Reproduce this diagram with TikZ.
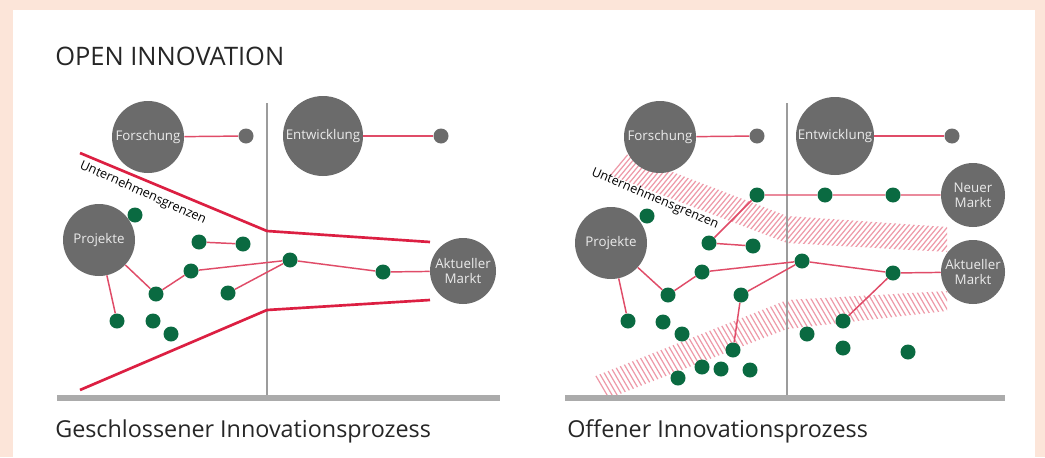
\documentclass[tikz,border=0pt]{standalone}
\usepackage{fontspec}
\setmainfont{Open Sans}
\definecolor{hintergrund}{HTML}{FCE5D9}
\definecolor{kreisgrau}{HTML}{6B6B6B}
\definecolor{punktgruen}{HTML}{0A6A41}
\definecolor{grenzrot}{HTML}{DC1F42}
\definecolor{linienrot}{HTML}{E04C68}
\definecolor{schraffrot}{HTML}{EE99A8}
\definecolor{achsgrau}{HTML}{9C9C9C}
\tikzset{
	kreis/.style={circle, fill=kreisgrau, inner sep=0pt, minimum size=#1, text=black!8, align=center, font=\fontsize{10}{11.5}\selectfont},
	knoten/.style={circle, fill=kreisgrau, inner sep=0pt, minimum size=11.25pt},
	punkt/.style={circle, fill=punktgruen, inner sep=0pt, minimum size=11.25pt},
	verbindung/.style={draw=linienrot, line width=1.1pt},
	grenze/.style={draw=grenzrot, line width=2pt},
	schraffur/.style={draw=schraffrot, line width=0.9pt},
	achse/.style={draw=achsgrau, line width=1.5pt},
	boden/.style={draw=achsgrau!85, line width=3.8pt},
	titel/.style={anchor=base west, inner sep=0pt, text=black!85, font=\fontsize{19.1}{21}\selectfont},
	unterschrift/.style={titel, font=\fontsize{17.5}{19}\selectfont},
	grenztext/.style={inner sep=0pt, text=black, font=\fontsize{9.5}{10}\selectfont},
}

\begin{document}
\begin{tikzpicture}[x=0.75pt, y=-0.75pt]
		%%%%% START %%%%%
		
		\fill[hintergrund] (0,0) rectangle (1045,457);
		\useasboundingbox (0,0) rectangle (1045,457);
		\fill[white] (13,10) rectangle (1035,457);
		
		\node[titel] (titel) at (55,65) {OPEN INNOVATION};
		
		%%%%% GESCHLOSSEN %%%%%
		
		\draw[achse] (267,103) -- (267,397);
		\draw[boden] (57,398) -- (500,398);
		\node[unterschrift] (links) at (55,437) {Geschlossener Innovationsprozess};
		
		\draw[grenze] (80,153) -- (267,231) -- (430,242);
		\draw[grenze] (80,390) -- (267,310) -- (430,300);
		\node[grenztext, rotate=-24] (grenzeA) at (143,193) {Unternehmensgrenzen};
		
		\node[kreis=54pt] (fo1) at (148,137) {Forschung};
		\node[kreis=60pt] (en1) at (323,136) {Entwicklung};
		\node[kreis=54pt] (pr1) at (99,240) {Projekte};
		\node[kreis=49.5pt] (am1) at (463,271) {Aktueller\\Markt};
		\node[knoten] (fp1) at (246,136) {};
		\node[knoten] (ep1) at (441,136) {};
		
		\node[punkt] (d1) at (135,215) {};
		\node[punkt] (d2) at (199,242) {};
		\node[punkt] (d3) at (243,244) {};
		\node[punkt] (d4) at (191,271) {};
		\node[punkt] (d5) at (290,260) {};
		\node[punkt] (d6) at (383,272) {};
		\node[punkt] (d7) at (156,294) {};
		\node[punkt] (d8) at (228,293) {};
		\node[punkt] (d9) at (117,321) {};
		\node[punkt] (d10) at (153,321) {};
		\node[punkt] (d11) at (171,334) {};
		
		\draw[verbindung] (fo1) -- (fp1);
		\draw[verbindung] (en1) -- (ep1);
		\draw[verbindung] (pr1) -- (d7) -- (d4) -- (d5) -- (d6) -- (am1);
		\draw[verbindung] (pr1) -- (d9);
		\draw[verbindung] (d8) -- (d5);
		\draw[verbindung] (d2) -- (d3);
		
		%%%%% OFFEN %%%%%
		
		\begin{scope}
			\clip (597,143) -- (787,216) -- (947,227) -- (947,252) -- (787,243) -- (597,170) -- cycle;
			\foreach \x in {540,545,...,1000}
				\draw[schraffur] (\x,260) -- (\x+100,140);
		\end{scope}
		\begin{scope}
			\clip (593,377) -- (787,300) -- (947,291) -- (947,311) -- (787,329) -- (607,399) -- cycle;
			\foreach \x in {500,505,...,960}
				\draw[schraffur] (\x,280) -- (\x+70,400);
		\end{scope}
		
		\draw[achse] (787,103) -- (787,397);
		\draw[boden] (565,398) -- (1005,398);
		\node[unterschrift] (rechts) at (567,437) {Offener Innovationsprozess};
		\node[grenztext, rotate=-23] (grenzeB) at (655,199) {Unternehmensgrenzen};
		
		\node[kreis=54pt] (fo2) at (660,137) {Forschung};
		\node[kreis=58.5pt] (en2) at (835,136) {Entwicklung};
		\node[kreis=54pt] (pr2) at (611,243) {Projekte};
		\node[kreis=48pt] (nm2) at (973,195) {Neuer\\Markt};
		\node[kreis=48pt] (am2) at (973,272) {Aktueller\\Markt};
		\node[knoten] (fp2) at (757,136) {};
		\node[knoten] (ep2) at (952,136) {};
		
		\node[punkt] (e1) at (757,195) {};
		\node[punkt] (e2) at (825,195) {};
		\node[punkt] (e3) at (893,195) {};
		\node[punkt] (e4) at (647,216) {};
		\node[punkt] (e5) at (709,243) {};
		\node[punkt] (e6) at (753,246) {};
		\node[punkt] (e7) at (702,272) {};
		\node[punkt] (e8) at (802,261) {};
		\node[punkt] (e9) at (893,273) {};
		\node[punkt] (e10) at (668,295) {};
		\node[punkt] (e11) at (741,295) {};
		\node[punkt] (e12) at (628,321) {};
		\node[punkt] (e13) at (663,322) {};
		\node[punkt] (e14) at (682,334) {};
		\node[punkt] (e15) at (733,350) {};
		\node[punkt] (e16) at (843,321) {};
		\node[punkt] (e17) at (807,334) {};
		\node[punkt] (e18) at (843,348) {};
		\node[punkt] (e19) at (908,352) {};
		\node[punkt] (e20) at (702,367) {};
		\node[punkt] (e21) at (721,369) {};
		\node[punkt] (e22) at (750,370) {};
		\node[punkt] (e23) at (678,378) {};
		
		\draw[verbindung] (fo2) -- (fp2);
		\draw[verbindung] (en2) -- (ep2);
		\draw[verbindung] (e5) -- (e1) -- (e2) -- (e3) -- (nm2);
		\draw[verbindung] (e5) -- (e6);
		\draw[verbindung] (pr2) -- (e10) -- (e7) -- (e8) -- (e9) -- (am2);
		\draw[verbindung] (pr2) -- (e12);
		\draw[verbindung] (e15) -- (e11) -- (e8);
		\draw[verbindung] (e9) -- (e16);
		
		%%%%% END %%%%%
	\end{tikzpicture}
\end{document}
